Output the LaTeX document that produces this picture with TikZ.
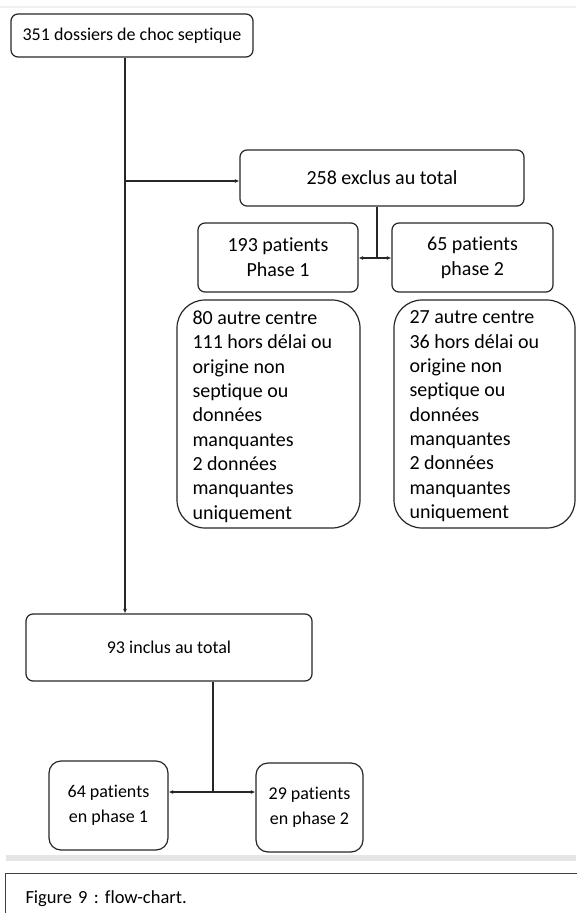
\documentclass[tikz,border=0pt]{standalone}
\usepackage{fontspec}
\setmainfont{Carlito}[Ligatures=NoCommon]
\usetikzlibrary{arrows.meta}
\begin{document}
\frenchspacing
\begin{tikzpicture}[x=1pt,y=-1pt,
  box/.style={draw=black!85, line width=1.2pt, rounded corners=7pt, inner sep=0pt, align=center,
    font=\fontsize{18}{25}\selectfont},
  boxL/.style={box, font=\fontsize{20}{25}\selectfont},
  bigbox/.style={draw=black!85, line width=1.2pt, rounded corners=28pt, inner sep=0pt,
    font=\fontsize{20}{24.3}\selectfont},
  arr/.style={line width=1.2pt, draw=black!85, -{Latex[length=4.5pt,width=4pt]}},
  conn/.style={line width=1.2pt, draw=black!85}]
\useasboundingbox (0,0) rectangle (576,913);
\fill[black!6] (0,6) rectangle (576,8);
% main boxes
\node[box, minimum width=242, minimum height=43] (A) at (132,35.5) {351 dossiers de choc septique};
\node[boxL, minimum width=284, minimum height=56] (E) at (382,178) {258 exclus au total};
\node[boxL, minimum width=160, minimum height=69] (P1) at (278,257.5) {193 patients\\Phase 1};
\node[boxL, minimum width=161, minimum height=69] (P2) at (472.5,257.5) {65 patients\\phase 2};
\node[bigbox, minimum width=183, minimum height=228] (D1) at (268.5,414)
  {\parbox[c][206pt][t]{152pt}{\raggedright 80 autre centre\\111 hors délai ou\\origine non\\septique ou\\données\\manquantes\\2 données\\manquantes\\uniquement}};
\node[bigbox, minimum width=181, minimum height=228] (D2) at (484.5,414)
  {\parbox[c][206pt][t]{150pt}{\raggedright 27 autre centre\\36 hors délai ou\\origine non\\septique ou\\données\\manquantes\\2 données\\manquantes\\uniquement}};
\node[box, minimum width=286, minimum height=67] (I) at (169,647.5) {93 inclus au total};
\node[box, minimum width=119, minimum height=89, rounded corners=12pt] (Q1) at (108.5,805.5) {64 patients\\en phase 1};
\node[box, minimum width=107, minimum height=89, rounded corners=12pt] (Q2) at (309.5,807.5) {29 patients\\en phase 2};
% connectors
\coordinate (trunk) at (125,181);
\coordinate (split) at (377,258);
\coordinate (split2) at (213,792);
\draw[arr] (A.south -| trunk) -- (I.north -| trunk);
\draw[arr] (trunk) -- (E.west |- trunk);
\draw[conn] (E.south -| split) -- (split);
\draw[arr] (split) -- (P1.east |- split);
\draw[arr] (split) -- (P2.west |- split);
\draw[conn] (I.south -| split2) -- (split2);
\draw[arr] (split2) -- (Q1.east |- split2);
\draw[arr] (split2) -- (Q2.west |- split2);
% caption
\fill[black!10] (6,855) rectangle (576,861);
\node[draw=black!75, line width=1pt, anchor=north west, minimum width=580, minimum height=50,
  inner xsep=19pt, text width=540, align=left, font=\fontsize{18.5}{20}\selectfont] (cap) at (5,873)
  {\raisebox{-7pt}{Figure 9 : flow-chart.}};
\end{tikzpicture}
\end{document}
